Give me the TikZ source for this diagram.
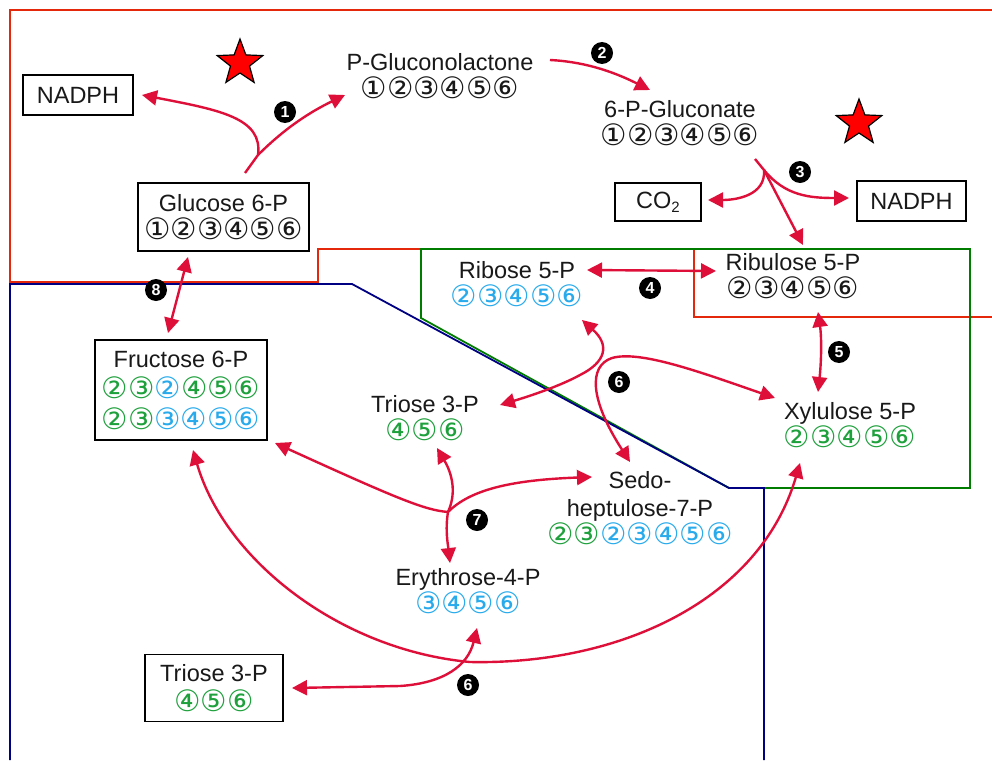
\documentclass[tikz,border=0pt]{standalone}
\usepackage{fontspec}
\setmainfont{Liberation Sans}
\newfontfamily\circfont{DejaVu Sans}
\usetikzlibrary{arrows.meta,shapes.geometric}
\definecolor{rxn}{RGB}{222,16,58}
\definecolor{zonered}{RGB}{228,40,12}
\definecolor{zoneblue}{RGB}{0,0,130}
\definecolor{zonegreen}{RGB}{0,125,0}
\definecolor{cgreen}{RGB}{30,160,60}
\definecolor{cblue}{RGB}{40,170,235}
\definecolor{cgray}{RGB}{25,25,25}
\newcommand\Gr[1]{\textcolor{cgreen}{#1}}
\newcommand\Bl[1]{\textcolor{cblue}{#1}}
\newcommand\crow[1]{{\circfont\fontsize{29.5}{28}\selectfont #1}}
\tikzset{
  tip/.tip={Triangle[length=15pt,width=15pt]},
  rx/.style={draw=rxn, line width=2.4pt, -tip},
  rxx/.style={draw=rxn, line width=2.4pt, tip-tip},
  cmp/.style={align=center, inner sep=0pt, text=cgray,
              font=\fontsize{23.5}{28}\selectfont},
  boxed/.style={cmp, draw=black, line width=1.4pt},
  badge/.style={circle, fill=black, text=white, inner sep=0pt,
                minimum size=22pt, font=\fontsize{16}{16}\selectfont\bfseries},
  redstar/.style={star, star points=5, star point ratio=2.4, fill=red,
                  draw=black, line width=1.2pt, minimum size=48pt, inner sep=0pt},
  zone/.style={line width=1.8pt}
}
\begin{document}
\begin{tikzpicture}[x=1pt,y=-1pt]
\useasboundingbox (0,0) rectangle (992,760);

% compartment outlines
\draw[zone, zonered] (992,10) -- (10,10) -- (10,282) -- (318,282) -- (318,249) -- (694,249) -- (694,317) -- (992,317);
\draw[zone, zonegreen] (421,249) -- (970,249) -- (970,488) -- (729,488) -- (421,318) -- cycle;
\draw[zone, zoneblue] (10,760) -- (10,284) -- (352,284) -- (729,488) -- (764,488) -- (764,760);

% metabolites
\node[boxed, minimum width=110pt, minimum height=40pt] (nadphA) at (78,95) {NADPH};
\node[boxed, minimum width=171pt, minimum height=68pt] (glc) at (223.5,217)
  {Glucose 6-P\\ \crow{①②③④⑤⑥}};
\node[cmp] (pgl) at (440,76) {P-Gluconolactone\\ \crow{①②③④⑤⑥}};
\node[cmp] (pgc) at (680,123) {6-P-Gluconate\\ \crow{①②③④⑤⑥}};
\node[boxed, minimum width=86pt, minimum height=38pt] (co2) at (658,202)
  {CO\raisebox{-4pt}{\fontsize{15}{15}\selectfont 2}};
\node[boxed, minimum width=109pt, minimum height=40pt] (nadphB) at (911.5,201) {NADPH};
\node[cmp] (rib) at (517,284) {Ribose 5-P\\ \crow{\Bl{②③④⑤⑥}}};
\node[cmp] (rul) at (793,276) {Ribulose 5-P\\ \crow{②③④⑤⑥}};
\node[cmp] (xyl) at (850,425) {Xylulose 5-P\\ \crow{\Gr{②③④⑤⑥}}};
\node[cmp] (tri) at (425,418) {Triose 3-P\\ \crow{\Gr{④⑤⑥}}};
\node[boxed, minimum width=172pt, minimum height=100pt,
      font=\fontsize{23.5}{31}\selectfont] (fru) at (181,390)
  {Fructose 6-P\\ \crow{\Gr{②③}\Bl{②}\Gr{④⑤⑥}}\\ \crow{\Gr{②③}\Bl{③④⑤⑥}}};
\node[cmp] (sed) at (640,508) {Sedo-\\heptulose-7-P\\ \crow{\Gr{②③}\Bl{②③④⑤⑥}}};
\node[cmp] (ery) at (468,591) {Erythrose-4-P\\ \crow{\Bl{③④⑤⑥}}};
\node[boxed, minimum width=138pt, minimum height=67pt,
      font=\fontsize{23.5}{30}\selectfont] (triB) at (214,688)
  {Triose 3-P\\ \crow{\Gr{④⑤⑥}}};

% stars
\node[redstar] (starA) at (240,63) {};
\node[redstar] (starB) at (859,123) {};

% reaction 1
\coordinate (s1) at (245,173);
\coordinate (j1) at (258,155);
\draw[rx] (s1) -- (j1) .. controls (263,118) and (220,110) .. (142,95);
\draw[rx] (j1) .. controls (285,128) and (310,112) .. (345,95);
% reaction 2
\draw[rx] (550,60) .. controls (590,62) and (620,75) .. (650,90);
% reaction 3
\coordinate (s3) at (755,159);
\coordinate (j3) at (764,170);
\draw[rx] (s3) -- (j3) .. controls (766,196) and (735,200) .. (708,200);
\draw[rx] (j3) .. controls (785,196) and (810,198) .. (849,198);
\draw[rx] (j3) -- (803,245);
% reaction 4
\draw[rxx] (587,270) -- (716,271);
% reaction 5
\draw[rxx] (818,312) .. controls (822,340) and (821,365) .. (818,392);
% reaction 6 (upper)
\draw[rxx] (582,320) .. controls (610,345) and (606,362) .. (580,375)
                    .. controls (560,386) and (530,396) .. (500,405);
\draw[rxx] (775,398) .. controls (700,372) and (640,350) .. (612,358)
                    .. controls (588,366) and (590,400) .. (630,462);
% reaction 7
\coordinate (j7) at (448,512);
\draw[rx] (j7) .. controls (425,510) and (400,500) .. (275,443);
\draw[rx] (j7) .. controls (458,490) and (450,470) .. (437,448);
\draw[rx] (j7) .. controls (470,490) and (510,480) .. (592,477);
\draw[rx] (j7) .. controls (445,530) and (448,545) .. (450,563);
% reaction 6 (lower)
\draw[rxx] (193,450) .. controls (225,560) and (340,650) .. (470,662)
                    .. controls (620,665) and (760,600) .. (800,463);
\draw[rxx] (292,688) -- (400,686) .. controls (445,683) and (468,665) .. (477,628);
% reaction 8
\draw[rxx] (188,257) -- (168,333);

% enzyme numbers
\node[badge] at (285,112) {1};
\node[badge] at (602,53) {2};
\node[badge] at (800,172) {3};
\node[badge] at (650,288) {4};
\node[badge] at (839,352) {5};
\node[badge] at (619,382) {6};
\node[badge] at (477,520) {7};
\node[badge] at (156,290) {8};
\node[badge] at (468,685) {6};
\end{tikzpicture}
\end{document}
